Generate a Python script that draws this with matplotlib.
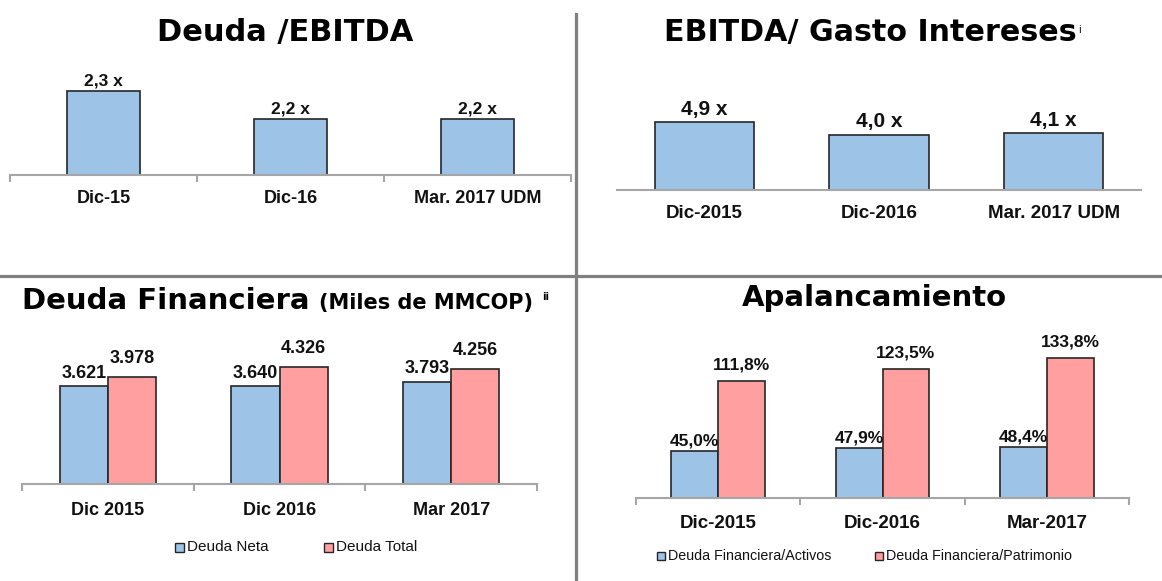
import matplotlib
matplotlib.use("Agg")
import matplotlib.pyplot as plt
from matplotlib.lines import Line2D
from matplotlib.patches import Rectangle
import numpy as np

# ---------------- data ----------------
cats_p1 = ["Dic-15", "Dic-16", "Mar. 2017 UDM"]
vals_p1 = [2.3, 2.2, 2.2]
lbls_p1 = ["2,3 x", "2,2 x", "2,2 x"]

cats_p2 = ["Dic-2015", "Dic-2016", "Mar. 2017 UDM"]
vals_p2 = [4.9, 4.0, 4.1]
lbls_p2 = ["4,9 x", "4,0 x", "4,1 x"]

cats_p3 = ["Dic 2015", "Dic 2016", "Mar 2017"]
neta_p3 = [3.621, 3.640, 3.793]
total_p3 = [3.978, 4.326, 4.256]
neta_lbl = ["3.621", "3.640", "3.793"]
total_lbl = ["3.978", "4.326", "4.256"]
legend_p3 = ["Deuda Neta", "Deuda Total"]

cats_p4 = ["Dic-2015", "Dic-2016", "Mar-2017"]
activos_p4 = [45.0, 47.9, 48.4]
patrimonio_p4 = [111.8, 123.5, 133.8]
activos_lbl = ["45,0%", "47,9%", "48,4%"]
patrimonio_lbl = ["111,8%", "123,5%", "133,8%"]
legend_p4 = ["Deuda Financiera/Activos", "Deuda Financiera/Patrimonio"]

# ---------------- style ----------------
W, H = 1162, 581
BLUE = "#9DC3E6"
PINK = "#FF9F9F"
EDGE = "#262626"
AXC = "#A6A6A6"
ARIAL = ["Liberation Sans", "DejaVu Sans"]
NARROW = ["Liberation Sans", "DejaVu Sans"]
TITLE = ["DejaVu Sans"]

fig = plt.figure(figsize=(W / 100, H / 100), dpi=100)
fig.patch.set_facecolor("white")


def px_axes(left, right, top, bottom):
    return fig.add_axes([left / W, 1 - bottom / H, (right - left) / W, (bottom - top) / H])


def style_axes(ax, ticks, fam, fsize, pad):
    for s in ["top", "right", "left"]:
        ax.spines[s].set_visible(False)
    ax.spines["bottom"].set_color(AXC)
    ax.spines["bottom"].set_linewidth(1.5)
    ax.set_yticks([])
    ax.set_xlim(-0.5, 2.5)
    ax.set_xticks(range(3))
    ax.tick_params(axis="x", which="major", length=0, pad=pad)
    if ticks:
        ax.set_xticks([-0.5, 0.5, 1.5, 2.5], minor=True)
        ax.tick_params(axis="x", which="minor", length=5, width=1.5, color=AXC, direction="out")
    for t in ax.get_xticklabels():
        t.set_fontfamily(fam)
        t.set_fontsize(fsize)
        t.set_fontweight("bold")
        t.set_color("#111111")
    ax.patch.set_alpha(0)


x = np.arange(3)

# ---------------- panel 1 ----------------
ax1 = px_axes(10, 571, 63, 175)
ax1.bar(x, vals_p1, width=0.39, color=BLUE, edgecolor=EDGE, linewidth=1.2)
ax1.set_ylim(2.0, 2.4)
ax1.set_xticks(x)
ax1.set_xticklabels(cats_p1)
style_axes(ax1, True, ARIAL, 13, 11)
for xi, v, l in zip(x, vals_p1, lbls_p1):
    ax1.annotate(l, (xi, v), xytext=(0, 2), textcoords="offset points", ha="center", va="bottom",
                 fontsize=12.5, fontweight="bold", family=ARIAL, color="#111111", annotation_clip=False)

# ---------------- panel 2 ----------------
ax2 = px_axes(617, 1141, 107, 190)
ax2.bar(x, vals_p2, width=0.57, color=BLUE, edgecolor=EDGE, linewidth=1.2)
ax2.set_ylim(0, 6)
ax2.set_xticks(x)
ax2.set_xticklabels(cats_p2)
style_axes(ax2, False, ARIAL, 13.5, 11)
for xi, v, l in zip(x, vals_p2, lbls_p2):
    ax2.annotate(l, (xi, v), xytext=(0, 2.5), textcoords="offset points", ha="center", va="bottom",
                 fontsize=15, fontweight="bold", family=ARIAL, color="#111111", annotation_clip=False)

# ---------------- panel 3 ----------------
ax3 = px_axes(22, 537, 349, 484)
bw3 = 0.28
ax3.bar(x - bw3 / 2, neta_p3, width=bw3, color=BLUE, edgecolor=EDGE, linewidth=1.2)
ax3.bar(x + bw3 / 2, total_p3, width=bw3, color=PINK, edgecolor=EDGE, linewidth=1.2)
ax3.set_ylim(0, 5)
ax3.set_xticks(x)
ax3.set_xticklabels(cats_p3)
style_axes(ax3, True, NARROW, 13, 13)
for xi, v, l in zip(x, neta_p3, neta_lbl):
    ax3.annotate(l, (xi - bw3 / 2, v), xytext=(0, 3), textcoords="offset points", ha="center", va="bottom",
                 fontsize=13, fontweight="bold", family=NARROW, color="#111111", annotation_clip=False)
for xi, v, l in zip(x, total_p3, total_lbl):
    ax3.annotate(l, (xi + bw3 / 2, v), xytext=(0, 7), textcoords="offset points", ha="center", va="bottom",
                 fontsize=13, fontweight="bold", family=NARROW, color="#111111", annotation_clip=False)

# ---------------- panel 4 ----------------
ax4 = px_axes(636, 1129, 341, 498)
bw4 = 0.285
ax4.bar(x - bw4 / 2, activos_p4, width=bw4, color=BLUE, edgecolor=EDGE, linewidth=1.2)
ax4.bar(x + bw4 / 2, patrimonio_p4, width=bw4, color=PINK, edgecolor=EDGE, linewidth=1.2)
ax4.set_ylim(0, 150)
ax4.set_xticks(x)
ax4.set_xticklabels(cats_p4)
style_axes(ax4, True, ARIAL, 13.5, 12)
for xi, v, l in zip(x, activos_p4, activos_lbl):
    ax4.annotate(l, (xi - bw4 / 2, v), xytext=(0, 2), textcoords="offset points", ha="center", va="bottom",
                 fontsize=12.5, fontweight="bold", family=ARIAL, color="#111111", annotation_clip=False)
for xi, v, l in zip(x, patrimonio_p4, patrimonio_lbl):
    ax4.annotate(l, (xi + bw4 / 2, v), xytext=(0, 6), textcoords="offset points", ha="center", va="bottom",
                 fontsize=12.5, fontweight="bold", family=ARIAL, color="#111111", annotation_clip=False)

# ---------------- titles ----------------
def ftext(xp, yp, s, **kw):
    fig.text(xp / W, 1 - yp / H, s, **kw)

ftext(285, 33, "Deuda /EBITDA", ha="center", va="center", fontsize=22, fontweight="bold", family=TITLE)
ftext(870, 33, "EBITDA/ Gasto Intereses", ha="center", va="center", fontsize=21.7, fontweight="bold", family=TITLE)
ftext(1078, 30, "i", ha="left", va="center", fontsize=7, family=TITLE)
ftext(22, 309, "Deuda Financiera", ha="left", va="baseline", fontsize=21, fontweight="bold", family=TITLE)
ftext(319, 309, "(Miles de MMCOP)", ha="left", va="baseline", fontsize=15, fontweight="bold", family=TITLE)
ftext(542, 297, "ii", ha="left", va="center", fontsize=7, fontweight="bold", family=TITLE)
ftext(874, 298, "Apalancamiento", ha="center", va="center", fontsize=21, fontweight="bold", family=TITLE)

# ---------------- legends ----------------
def legend_item(xbox, yc, color, label, fam, fs, box):
    fig.patches.append(Rectangle((xbox / W, 1 - (yc + box / 2) / H), box / W, box / H,
                                 transform=fig.transFigure, facecolor=color, edgecolor=EDGE, linewidth=1.0))
    ftext(xbox + box + 3, yc, label, ha="left", va="center", fontsize=fs, family=fam, color="#111111")

legend_item(175, 547, BLUE, legend_p3[0], NARROW, 11, 9)
legend_item(324, 547, PINK, legend_p3[1], NARROW, 11, 9)
legend_item(657, 556, BLUE, legend_p4[0], ARIAL, 10.3, 8)
legend_item(875, 556, PINK, legend_p4[1], ARIAL, 10.3, 8)

# ---------------- divider lines ----------------
fig.add_artist(Line2D([576 / W, 576 / W], [0, 1 - 14 / H], transform=fig.transFigure, color="#808080", linewidth=2.3))
fig.add_artist(Line2D([0, 1], [1 - 276 / H, 1 - 276 / H], transform=fig.transFigure, color="#808080", linewidth=2.3))

fig.savefig("out.png", dpi=100, facecolor="white")
